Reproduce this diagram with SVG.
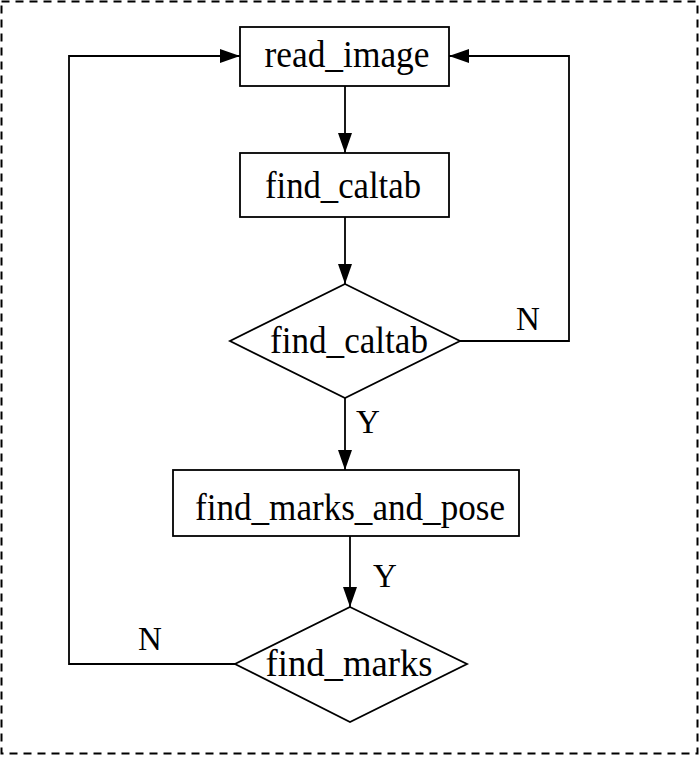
<svg xmlns="http://www.w3.org/2000/svg" width="700" height="757" viewBox="0 0 700 757">
<style>
.box{fill:#fff;stroke:#000;stroke-width:1.8}
.ln{fill:none;stroke:#000;stroke-width:1.8}
.t{font-family:"Liberation Serif","Times New Roman",serif;font-size:38px;fill:#000;text-anchor:middle}
.l{font-family:"Liberation Serif","Times New Roman",serif;font-size:33px;fill:#000;text-anchor:middle}
</style>
<defs>
<marker id="ah" viewBox="0 0 20 14" refX="20" refY="7" markerWidth="20" markerHeight="14" markerUnits="userSpaceOnUse" orient="auto">
<path d="M0,0 L20,7 L0,14 Z" fill="#000"/>
</marker>
</defs>
<rect x="1.5" y="1.5" width="696" height="752" fill="none" stroke="#000" stroke-width="2" stroke-dasharray="8,6"/>
<g id="connectors">
<line class="ln" x1="345" y1="86" x2="345" y2="153" marker-end="url(#ah)"/>
<line class="ln" x1="345" y1="217" x2="345" y2="284" marker-end="url(#ah)"/>
<line class="ln" x1="345" y1="398" x2="345" y2="470" marker-end="url(#ah)"/>
<line class="ln" x1="350" y1="536" x2="350" y2="607" marker-end="url(#ah)"/>
<polyline class="ln" points="460,341 569,341 569,56 449,56" marker-end="url(#ah)"/>
<polyline class="ln" points="235,664 69,664 69,56 240,56" marker-end="url(#ah)"/>
<text class="l" x="528" y="330">N</text>
<text class="l" x="368" y="433">Y</text>
<text class="l" x="385" y="587">Y</text>
<text class="l" x="150" y="650">N</text>
</g>
<g id="read_image">
<rect class="box" x="240" y="27" width="209" height="59"/>
<text class="t" x="347" y="67" textLength="165" lengthAdjust="spacingAndGlyphs">read_image</text>
</g>
<g id="find_caltab_box">
<rect class="box" x="240" y="153" width="209" height="64"/>
<text class="t" x="343" y="198" textLength="156" lengthAdjust="spacingAndGlyphs">find_caltab</text>
</g>
<g id="find_caltab_decision">
<polygon class="box" points="345,284 460,341 345,398 230,341"/>
<text class="t" x="349" y="353" textLength="158" lengthAdjust="spacingAndGlyphs">find_caltab</text>
</g>
<g id="find_marks_and_pose">
<rect class="box" x="173" y="470" width="346" height="66"/>
<text class="t" x="350" y="520" textLength="310" lengthAdjust="spacingAndGlyphs">find_marks_and_pose</text>
</g>
<g id="find_marks_decision">
<polygon class="box" points="350,607 467,664 350,722 235,664"/>
<text class="t" x="349" y="676" textLength="167" lengthAdjust="spacingAndGlyphs">find_marks</text>
</g>
</svg>
